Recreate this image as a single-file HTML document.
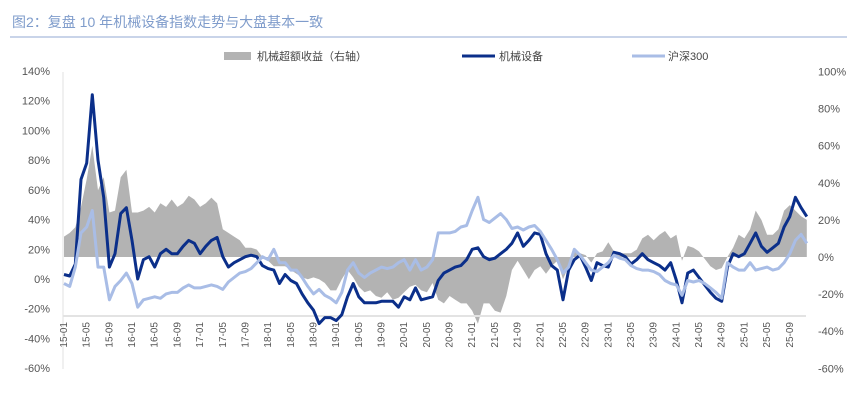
<!DOCTYPE html>
<html><head><meta charset="utf-8">
<style>
html,body{margin:0;padding:0;background:#fff;}
body{width:847px;height:400px;overflow:hidden;font-family:"Liberation Sans","Noto Sans CJK SC",sans-serif;}
svg text{font-family:"Liberation Sans","Noto Sans CJK SC",sans-serif;}
</style></head>
<body>
<svg id="chart" width="847" height="400" viewBox="0 0 847 400" xmlns="http://www.w3.org/2000/svg">
  <text x="12" y="27" font-size="14" fill="#7f9ccb">图2：复盘 10 年机械设备指数走势与大盘基本一致</text>
  <line x1="10" y1="37" x2="847" y2="37" stroke="#a9bbdc" stroke-width="1.2"/>
  <g>
    <rect x="224" y="52" width="27" height="8" fill="#b3b3b3"/>
    <text x="257" y="60" font-size="11" fill="#444">机械超额收益（右轴）</text>
    <line x1="462" y1="56" x2="495" y2="56" stroke="#0b2f8a" stroke-width="3"/>
    <text x="499" y="60" font-size="11" fill="#444">机械设备</text>
    <line x1="632" y1="56" x2="665" y2="56" stroke="#a9bde6" stroke-width="3"/>
    <text x="668" y="60" font-size="11" fill="#444">沪深300</text>
  </g>
  <line x1="63" y1="72" x2="63" y2="369" stroke="#e0e0e0" stroke-width="1"/>
  <g id="plot"></g>
</svg>
<script>
const months = ["15-01","15-05","15-09","16-01","16-05","16-09","17-01","17-05","17-09","18-01","18-05","18-09","19-01","19-05","19-09","20-01","20-05","20-09","21-01","21-05","21-09","22-01","22-05","22-09","23-01","23-05","23-09","24-01","24-05","24-09","25-01","25-05","25-09"];
const leftTicks = [140,120,100,80,60,40,20,0,-20,-40,-60];
const rightTicks = [100,80,60,40,20,0,-20,-40,-60];
const machinery = [3,2,10,67,78,124,80,55,8,17,
44,48,26,0,13,15,8,17,20,17,
17,22,26,24,17,22,26,28,15,8,
11,13,15,16,15,9,7,6,-3,3,
-1,-3,-10,-16,-21,-30,-26,-26,-28,-24,
-12,-3,-12,-16,-16,-16,-15,-15,-15,-19,
-12,-14,-6,-14,-13,-12,-1,4,6,8,
9,13,20,21,15,13,14,17,20,24,
31,22,26,31,30,17,9,6,-14,6,
13,16,8,-1,11,9,8,18,17,15,
10,13,17,13,11,9,6,11,-1,-16,
4,6,1,-4,-9,-13,-15,8,17,15,
17,24,31,22,18,21,24,35,42,55,48,42];
const csi300 = [-3,-5,8,31,35,46,8,8,-14,-5,
-1,4,-3,-19,-14,-13,-12,-13,-10,-9,
-9,-6,-4,-6,-6,-5,-4,-5,-7,-2,
1,4,5,7,11,15,13,20,11,11,
6,6,1,-5,-10,-7,-11,-13,-16,-9,
6,11,4,1,4,6,8,7,8,11,
13,6,13,6,8,13,31,31,31,32,
35,36,46,55,40,38,41,44,40,34,
35,33,35,36,32,26,20,13,4,8,
20,16,11,6,5,8,11,16,14,13,
9,7,6,6,5,3,-1,-3,-4,-11,
-1,-2,-1,-3,-6,-9,-13,11,8,6,
6,11,6,7,8,6,7,11,17,26,30,24];
const excess = [11,13,16,27,42,60,36,43,24,25,
43,47,24,24,25,27,24,29,27,31,
27,29,33,31,27,29,32,29,15,13,
11,9,5,5,4,0,-2,-5,-5,-5,
-7,-9,-11,-12,-11,-12,-14,-18,-18,-12,
-7,-11,-16,-19,-18,-21,-22,-19,-23,-22,
-19,-16,-15,-18,-19,-14,-23,-25,-21,-23,
-25,-25,-29,-36,-25,-25,-29,-30,-21,-7,
-2,-7,-12,-7,-5,-9,-5,-2,-12,-5,
3,2,1,-3,2,3,8,3,2,2,
2,4,10,12,9,12,14,10,12,-2,
6,5,3,-1,-5,-7,-6,0,5,12,
10,15,25,20,12,12,15,25,28,25,22,20];

const NS="http://www.w3.org/2000/svg";
const plot=document.getElementById('plot');
const xOf = i => 64 + i*5.67;
const yL = v => 279 - v*1.486;
const yR = v => 257 - v*1.855;
function mk(tag, attrs){const e=document.createElementNS(NS,tag);for(const k in attrs)e.setAttribute(k,attrs[k]);plot.appendChild(e);return e;}

// left ticks
leftTicks.forEach(v=>{
  const t=mk('text',{x:50,y:yL(v)+4,'font-size':11,fill:'#555','text-anchor':'end'});
  
  
  t.textContent=v+'%';
});
rightTicks.forEach(v=>{
  const t=mk('text',{x:818,y:yR(v)+4,'font-size':11,fill:'#555'});
  
  
  t.textContent=v+'%';
});
// excess area
let d='M'+xOf(0)+','+yR(0);
excess.forEach((v,i)=>{d+=' L'+xOf(i).toFixed(1)+','+yR(v).toFixed(1);});
d+=' L'+xOf(excess.length-1).toFixed(1)+','+yR(0)+' Z';
const area=mk('path',{d:d,fill:'#b3b3b3',stroke:'none'});


// x axis line
const ax=mk('line',{x1:63,y1:316,x2:806,y2:316,stroke:'#e3e3e3','stroke-width':2});


// lines
function line(arr,color,name){
  const pts=arr.map((v,i)=>xOf(i).toFixed(1)+','+yL(v).toFixed(1)).join(' ');
  const p=mk('polyline',{points:pts,fill:'none',stroke:color,'stroke-width':3,'stroke-linejoin':'round'});
  
  
}
line(machinery,'#0b2f8a','machinery-line');
line(csi300,'#a9bde6','csi300-line');
// x labels
months.forEach((m,k)=>{
  const x=xOf(k*4)+3;
  const t=mk('text',{x:0,y:0,'font-size':10,fill:'#555','text-anchor':'end',transform:'translate('+x.toFixed(1)+',322) rotate(-90)'});
  
  
  t.textContent=m;
});
</script>
</body></html>
